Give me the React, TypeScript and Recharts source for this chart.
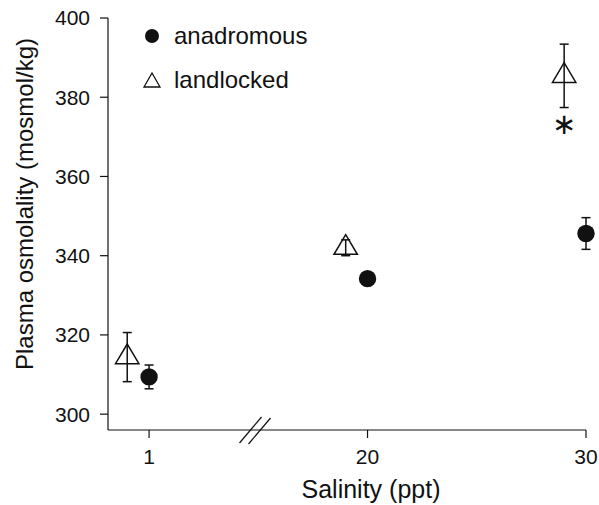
import { ScatterChart, Scatter, XAxis, YAxis, ErrorBar, Legend, ReferenceDot, Label } from 'recharts';

const salinity = [1, 20, 30];
const anadromousMean = [309.4, 334.2, 345.6];
const anadromousSE = [3.0, 1.5, 4.0];
const landlockedMean = [314.4, 342.0, 385.4];
const landlockedSE = [6.2, 2.0, 8.0];
const landlockedSig = ['', '', '∗'];
const yTicks = [300, 320, 340, 360, 380, 400];

const FONT = '"Liberation Sans", Arial, Helvetica, sans-serif';
const INK = '#111';

// broken x axis: one slot per salinity, landlocked nudged a bit to the left
const anadromous = salinity.map((s, i) => ({ pos: i, salinity: s, osm: anadromousMean[i], se: anadromousSE[i] }));
const landlocked = salinity.map((s, i) => ({
  pos: i - 0.1, salinity: s, osm: landlockedMean[i], se: landlockedSE[i], sig: landlockedSig[i],
}));

const FilledDot = ({ cx, cy }: any) => <circle cx={cx} cy={cy} r={8.7} fill={INK} />;

const OpenTriangle = ({ cx, cy, payload }: any) => (
  <g>
    <polygon
      points={`${cx},${cy - 13.1} ${cx - 11.7},${cy + 6.6} ${cx + 11.7},${cy + 6.6}`}
      fill="none" stroke={INK} strokeWidth={1.5}
    />
    {payload?.sig ? (
      <text x={cx} y={cy + 58} textAnchor="middle" fontSize={29} fontFamily='"DejaVu Sans", sans-serif' fill={INK}>{payload.sig}</text>
    ) : null}
  </g>
);

const AxisBreak = ({ cx, cy }: any) => (
  <g stroke={INK} strokeWidth={1.2}>
    <line x1={cx - 15.5} y1={cy + 13} x2={cx + 6.5} y2={cy - 13} />
    <line x1={cx - 6.5} y1={cy + 14} x2={cx + 15.5} y2={cy - 12} />
  </g>
);

function LegendBox() {
  const row = { display: 'flex', alignItems: 'center', height: 44 } as const;
  const txt = { fontFamily: FONT, fontSize: 24, color: INK, marginLeft: 12, lineHeight: '24px' };
  return (
    <div>
      <div style={row}>
        <svg width={20} height={20}><circle cx={10} cy={10} r={7} fill={INK} /></svg>
        <span style={txt}>anadromous</span>
      </div>
      <div style={row}>
        <svg width={20} height={20}><polygon points="10,3 2,17 18,17" fill="none" stroke={INK} strokeWidth={1.3} /></svg>
        <span style={txt}>landlocked</span>
      </div>
    </div>
  );
}

export default function App() {
  return (
    <div style={{ position: 'absolute', left: 0, top: 0, background: '#fff' }}>
      <ScatterChart width={599} height={505} margin={{ top: 18, right: 13, bottom: 0, left: 0 }}>
        <XAxis
          type="number" dataKey="pos" domain={[-0.188, 2]} ticks={[0, 1, 2]}
          tickFormatter={(v: number) => String(salinity[v])}
          height={75} tickSize={8} tickMargin={11} stroke={INK} strokeWidth={1.2}
          tick={{ fill: INK, fontSize: 21, fontFamily: FONT }} interval={0}
        >
          <Label value="Salinity (ppt)" position="insideBottom" offset={7} dx={24} fill={INK} fontSize={25} fontFamily={FONT} />
        </XAxis>
        <YAxis
          type="number" dataKey="osm" domain={[296, 400]} ticks={yTicks}
          width={108} tickSize={8} tickMargin={10} stroke={INK} strokeWidth={1.2}
          tick={{ fill: INK, fontSize: 21, fontFamily: FONT }} interval={0}
        >
          <Label
            value="Plasma osmolality (mosmol/kg)" angle={-90} position="insideLeft" offset={24} dy={-20}
            textAnchor="middle" fill={INK} fontSize={24} fontFamily={FONT}
          />
        </YAxis>
        <Legend
          layout="vertical" align="center" verticalAlign="middle"
          content={() => <LegendBox />}
          wrapperStyle={{ left: 142, top: 14, width: 'auto' }}
        />
        <Scatter name="landlocked" data={landlocked} shape={<OpenTriangle />} isAnimationActive={false}>
          <ErrorBar dataKey="se" direction="y" width={4.5} stroke={INK} strokeWidth={1.5} isAnimationActive={false} />
        </Scatter>
        <Scatter name="anadromous" data={anadromous} shape={<FilledDot />} isAnimationActive={false}>
          <ErrorBar dataKey="se" direction="y" width={4.5} stroke={INK} strokeWidth={1.5} isAnimationActive={false} />
        </Scatter>
        <ReferenceDot x={0.485} y={296} shape={<AxisBreak />} ifOverflow="visible" />
      </ScatterChart>
    </div>
  );
}
